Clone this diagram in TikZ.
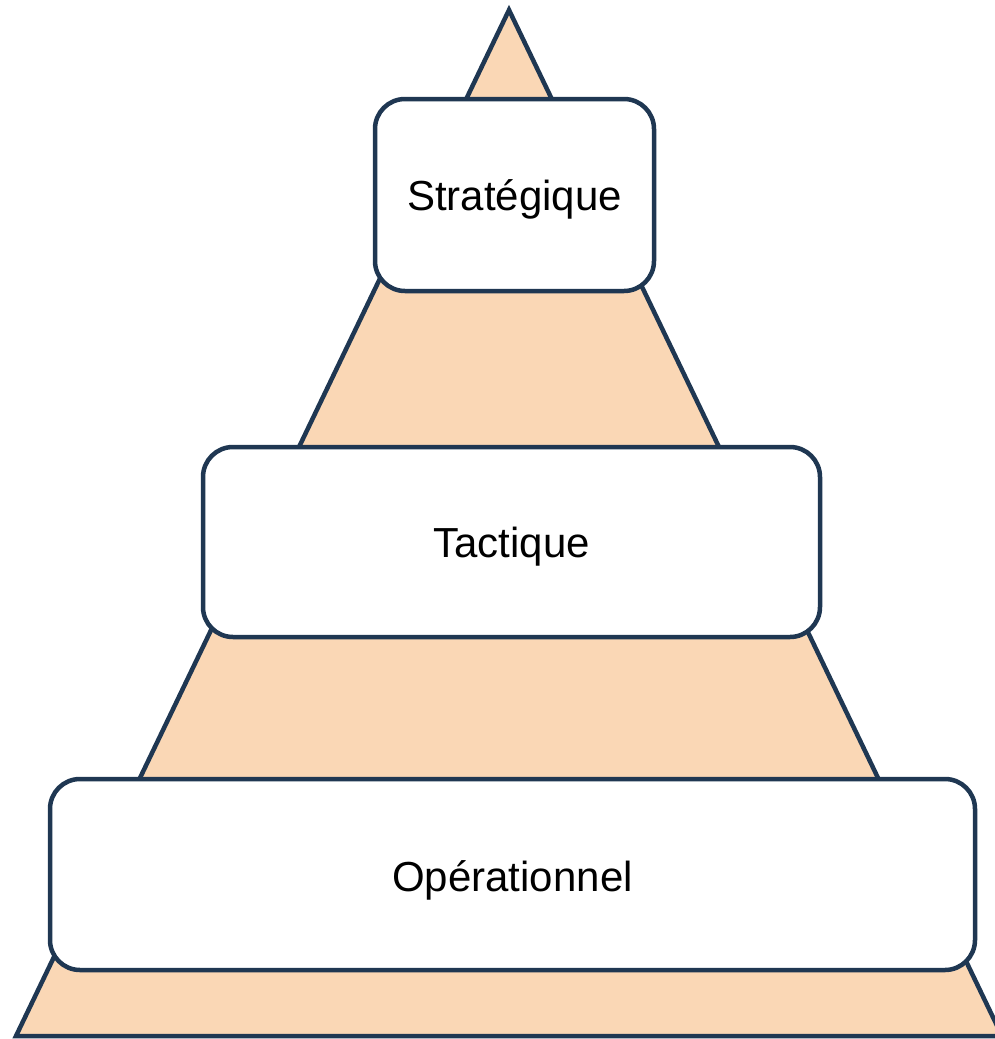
\documentclass[tikz,border=0pt]{standalone}
\usepackage{fontspec}
\setmainfont{Liberation Sans}
\definecolor{strokec}{HTML}{1F3752}
\definecolor{fillc}{HTML}{FAD7B5}
\begin{document}
\begin{tikzpicture}[x=1pt,y=-1pt,
  level/.style={draw=strokec,line width=4.5pt,fill=white,rounded corners=30pt},
  lbl/.style={font=\fontsize{42}{50}\selectfont,inner sep=0pt}]
\useasboundingbox (0,0) rectangle (995,1039);
\draw[strokec,line width=4.5pt,fill=fillc,line join=miter] (509,10) -- (1002,1036) -- (16,1036) -- cycle;
\draw[level] (375,99) rectangle (654,291);
\node[lbl] (s) at (514.5,199) {Stratégique};
\draw[level] (203,447) rectangle (820,637);
\node[lbl] (t) at (511.5,547) {Tactique};
\draw[level] (50,779) rectangle (975,970);
\node[lbl] (o) at (512.5,880) {Opérationnel};
\end{tikzpicture}
\end{document}
